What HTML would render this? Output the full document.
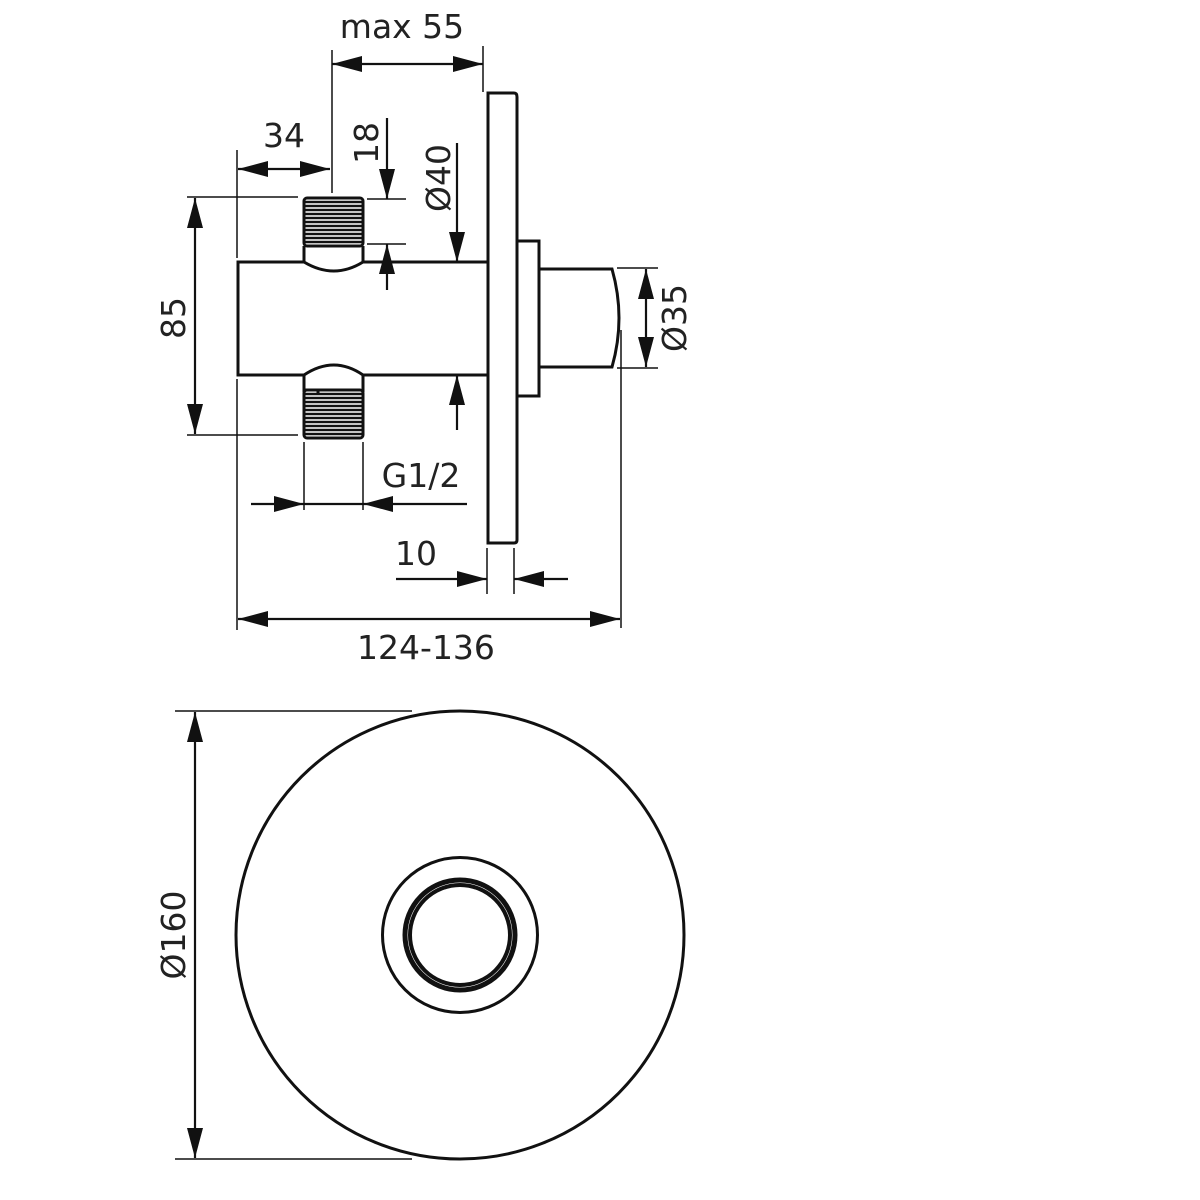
<!DOCTYPE html>
<html><head><meta charset="utf-8"><style>
html,body{margin:0;padding:0;background:#fff;}
svg{display:block;}
text{font-family:"DejaVu Sans","Liberation Sans",sans-serif;font-size:33px;fill:#222;}
</style></head><body>
<svg width="1200" height="1200" viewBox="0 0 1200 1200" xmlns="http://www.w3.org/2000/svg">
<defs>
<marker id="a" viewBox="0 0 30 16" refX="30" refY="8" markerWidth="30" markerHeight="16" markerUnits="userSpaceOnUse" orient="auto-start-reverse"><path d="M0,0L30,8L0,16z" fill="#111"/></marker>
</defs>
<g stroke="#111" fill="none">
<g stroke-width="1.5">
<line x1="332" y1="50" x2="332" y2="193"/>
<line x1="483" y1="46" x2="483" y2="92"/>
<line x1="237" y1="150" x2="237" y2="258"/>
<line x1="237" y1="379" x2="237" y2="630"/>
<line x1="187" y1="197" x2="298" y2="197"/>
<line x1="187" y1="435" x2="298" y2="435"/>
<line x1="367" y1="199" x2="406" y2="199"/>
<line x1="367" y1="244" x2="406" y2="244"/>
<line x1="304" y1="442" x2="304" y2="510"/>
<line x1="363" y1="442" x2="363" y2="510"/>
<line x1="487" y1="548" x2="487" y2="594"/>
<line x1="514" y1="548" x2="514" y2="594"/>
<line x1="621" y1="330" x2="621" y2="628"/>
<line x1="617" y1="268" x2="658" y2="268"/>
<line x1="617" y1="368" x2="658" y2="368"/>
<line x1="175" y1="711" x2="412" y2="711"/>
<line x1="175" y1="1159" x2="412" y2="1159"/>
</g>
<g stroke-width="2.2">
<line x1="332" y1="64" x2="483" y2="64" marker-start="url(#a)" marker-end="url(#a)"/>
<line x1="238" y1="169" x2="330" y2="169" marker-start="url(#a)" marker-end="url(#a)"/>
<line x1="387" y1="118" x2="387" y2="199" marker-end="url(#a)"/>
<line x1="387" y1="290" x2="387" y2="244" marker-end="url(#a)"/>
<line x1="457" y1="143" x2="457" y2="262" marker-end="url(#a)"/>
<line x1="457" y1="430" x2="457" y2="375" marker-end="url(#a)"/>
<line x1="195" y1="198" x2="195" y2="434" marker-start="url(#a)" marker-end="url(#a)"/>
<line x1="251" y1="504" x2="304" y2="504" marker-end="url(#a)"/>
<line x1="467" y1="504" x2="363" y2="504" marker-end="url(#a)"/>
<line x1="304" y1="504" x2="363" y2="504"/>
<line x1="396" y1="579" x2="487" y2="579" marker-end="url(#a)"/>
<line x1="568" y1="579" x2="514" y2="579" marker-end="url(#a)"/>
<line x1="238" y1="619" x2="620" y2="619" marker-start="url(#a)" marker-end="url(#a)"/>
<line x1="646" y1="269" x2="646" y2="367" marker-start="url(#a)" marker-end="url(#a)"/>
<line x1="195" y1="712" x2="195" y2="1158" marker-start="url(#a)" marker-end="url(#a)"/>
</g>
<g stroke-width="3">
<path d="M304,262 L238,262 L238,375 L304,375"/>
<path d="M363,262 L488,262 M363,375 L488,375"/>
<path d="M488,93 L514,93 Q517,93 517,97 L517,540 Q517,543 514,543 L488,543 Z"/>
<path d="M517,241 L539,241 L539,396 L517,396"/>
<path d="M539,269 L612,269 Q626,318 612,367 L539,367"/>
<path d="M304,246 L304,262 Q334,280 363,262 L363,246"/>
<rect x="304" y="198" width="59" height="48" rx="3"/>
<path d="M304,392 L304,375 Q334,355 363,375 L363,392"/>
<rect x="304" y="390" width="59" height="48" rx="3"/>
<path d="M304,390 L318,390 L318,393"/>
</g>
<g stroke-width="2.6">
<path d="M305,202H362M305,206H362M305,210H362M305,214H362M305,218H362M305,222H362M305,226H362M305,230H362M305,234H362M305,238H362M305,242H362"/>
<path d="M305,394H362M305,398H362M305,402H362M305,406H362M305,410H362M305,414H362M305,418H362M305,422H362M305,426H362M305,430H362M305,434H362"/>
</g>
<circle cx="460" cy="935" r="224" stroke-width="3"/>
<circle cx="460" cy="935" r="77.5" stroke-width="3"/>
<circle cx="460" cy="935" r="55" stroke-width="5"/>
<circle cx="460" cy="935" r="50" stroke-width="4"/>
</g>
<text x="402" y="38" text-anchor="middle">max 55</text>
<text x="284" y="147" text-anchor="middle">34</text>
<text transform="translate(378,143) rotate(-90)" text-anchor="middle">18</text>
<text transform="translate(450,178) rotate(-90)" text-anchor="middle">Ø40</text>
<text transform="translate(185,318) rotate(-90)" text-anchor="middle">85</text>
<text x="421" y="487" text-anchor="middle">G1/2</text>
<text x="416" y="565" text-anchor="middle">10</text>
<text x="426" y="659" text-anchor="middle">124-136</text>
<text transform="translate(686,318) rotate(-90)" text-anchor="middle">Ø35</text>
<text transform="translate(185,935) rotate(-90)" text-anchor="middle">Ø160</text>
</svg>
</body></html>
